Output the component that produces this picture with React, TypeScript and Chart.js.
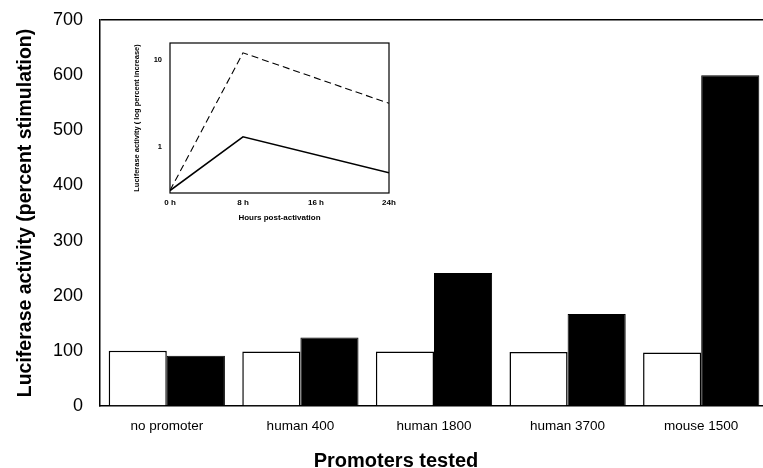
import React, { useEffect, useRef } from "react";
import { Chart, registerables } from "chart.js";

Chart.register(...registerables);

// ---- Main chart data ----
const categories = ["no promoter", "human 400", "human 1800", "human 3700", "mouse 1500"];
const controlValues = [100, 99, 99, 98, 97];
const stimulatedValues = [91, 124, 241, 167, 600];
const yMin = 0;
const yMax = 700;
const yStep = 100;

// ---- Inset data ----
const insetHours = [0, 8, 24];
const insetDashed = [0.32, 11.9, 3.16];
const insetSolid = [0.32, 1.31, 0.51];
const insetHourTicks = [0, 8, 16, 24];
const insetHourLabels = ["0 h", "8 h", "16 h", "24h"];
const insetLogTicks = [1, 10];
const insetYMin = 0.32;
const insetYMax = 15.4;

const FONT = "'Liberation Sans', Arial, Helvetica, sans-serif";

const boxPlugin = {
  id: "insetBox",
  afterDraw(chart: any) {
    const { ctx, chartArea } = chart;
    const { left, top, right, bottom } = chartArea;
    ctx.save();
    ctx.strokeStyle = "#000";
    ctx.lineWidth = 1.2;
    ctx.strokeRect(left, top, right - left, bottom - top);
    ctx.restore();
  },
};

export default function App() {
  const mainRef = useRef<HTMLCanvasElement | null>(null);
  const insetRef = useRef<HTMLCanvasElement | null>(null);

  useEffect(() => {
    const main = new Chart(mainRef.current as HTMLCanvasElement, {
      type: "bar",
      data: {
        labels: categories,
        datasets: [
          {
            label: "control",
            data: controlValues,
            backgroundColor: "#ffffff",
            borderColor: "#000000",
            borderWidth: 1.5,
            categoryPercentage: 0.87,
            barPercentage: 1.0,
          },
          {
            label: "stimulated",
            data: stimulatedValues,
            backgroundColor: "#000000",
            borderColor: "#000000",
            borderWidth: 1,
            categoryPercentage: 0.87,
            barPercentage: 1.0,
          },
        ],
      },
      options: {
        responsive: false,
        animation: false,
        devicePixelRatio: 1,
        layout: { padding: { top: 20, right: 0, left: 0, bottom: 0 } },
        plugins: { legend: { display: false }, tooltip: { enabled: false }, title: { display: false } },
        scales: {
          x: {
            grid: { display: false, drawTicks: false },
            border: { display: true, color: "#000", width: 1.5 },
            ticks: { color: "#000", font: { family: FONT, size: 13.5 }, padding: 12, maxRotation: 0 },
            afterFit: (s: any) => {
              s.height = 62;
              s.paddingLeft = 0;
              s.paddingRight = 0;
            },
          },
          y: {
            min: yMin,
            max: yMax,
            grid: {
              display: true,
              drawTicks: false,
              lineWidth: 1.5,
              color: (c: any) => (c.tick && c.tick.value === yMax ? "#000" : "rgba(0,0,0,0)"),
            },
            border: { display: true, color: "#000", width: 1.5 },
            ticks: { stepSize: yStep, color: "#000", font: { family: FONT, size: 18 }, padding: 17 },
            title: {
              display: true,
              text: "Luciferase activity (percent stimulation)",
              color: "#000",
              font: { family: FONT, size: 19.5, weight: "bold", lineHeight: 1 },
              padding: { top: 16, bottom: 0 },
            },
            afterFit: (s: any) => {
              s.width = 100;
              s.paddingTop = 0;
              s.paddingBottom = 0;
            },
          },
        },
      },
    } as any);

    const inset = new Chart(insetRef.current as HTMLCanvasElement, {
      type: "line",
      data: {
        datasets: [
          {
            label: "dashed",
            data: insetHours.map((h, i) => ({ x: h, y: insetDashed[i] })),
            borderColor: "#000",
            borderWidth: 1.1,
            borderDash: [7, 4],
            pointRadius: 0,
            fill: false,
            tension: 0,
          },
          {
            label: "solid",
            data: insetHours.map((h, i) => ({ x: h, y: insetSolid[i] })),
            borderColor: "#000",
            borderWidth: 1.5,
            pointRadius: 0,
            fill: false,
            tension: 0,
          },
        ],
      },
      options: {
        responsive: false,
        animation: false,
        devicePixelRatio: 1,
        layout: { padding: { top: 13, right: 16, left: 0, bottom: 0 } },
        plugins: { legend: { display: false }, tooltip: { enabled: false } },
        scales: {
          x: {
            type: "linear",
            min: insetHourTicks[0],
            max: insetHourTicks[insetHourTicks.length - 1],
            grid: { display: false, drawTicks: false },
            border: { display: false },
            afterBuildTicks: (s: any) => {
              s.ticks = insetHourTicks.map((v) => ({ value: v }));
            },
            ticks: {
              autoSkip: false,
              maxRotation: 0,
              color: "#000",
              font: { family: FONT, size: 8, weight: "bold" },
              padding: 5,
              callback: (v: any) => {
                const i = insetHourTicks.indexOf(Number(v));
                return i >= 0 ? insetHourLabels[i] : "";
              },
            },
            title: {
              display: true,
              text: "Hours post-activation",
              color: "#000",
              font: { family: FONT, size: 8, weight: "bold", lineHeight: 1 },
              padding: { top: 0, bottom: 8 },
            },
            afterFit: (s: any) => {
              s.height = 37;
            },
          },
          y: {
            type: "logarithmic",
            min: insetYMin,
            max: insetYMax,
            grid: { display: false, drawTicks: false },
            border: { display: false },
            afterBuildTicks: (s: any) => {
              s.ticks = insetLogTicks.map((v) => ({ value: v }));
            },
            ticks: {
              autoSkip: false,
              color: "#000",
              font: { family: FONT, size: 7.5, weight: "bold" },
              padding: 8,
              callback: (v: any) => String(v),
            },
            title: {
              display: true,
              text: "Luciferase activity ( log percent increase)",
              color: "#000",
              font: { family: FONT, size: 7.5, weight: "bold", lineHeight: 1 },
              padding: { top: 18, bottom: 0 },
            },
            afterFit: (s: any) => {
              s.width = 55;
            },
          },
        },
      },
      plugins: [boxPlugin],
    } as any);

    return () => {
      main.destroy();
      inset.destroy();
    };
  }, []);

  return (
    <div
      style={{
        position: "absolute",
        left: 0,
        top: 0,
        width: 763,
        height: 468,
        background: "#fff",
        overflow: "hidden",
      }}
    >
      <canvas ref={mainRef} width={768} height={468} style={{ position: "absolute", left: 0, top: 0 }} />
      <canvas ref={insetRef} width={290} height={200} style={{ position: "absolute", left: 115, top: 30 }} />
      <div
        style={{
          position: "absolute",
          left: 396,
          top: 460,
          transform: "translate(-50%, -50%)",
          whiteSpace: "nowrap",
          fontFamily: FONT,
          fontWeight: "bold",
          fontSize: 20,
          color: "#000",
          lineHeight: 1,
        }}
      >
        Promoters tested
      </div>
    </div>
  );
}
